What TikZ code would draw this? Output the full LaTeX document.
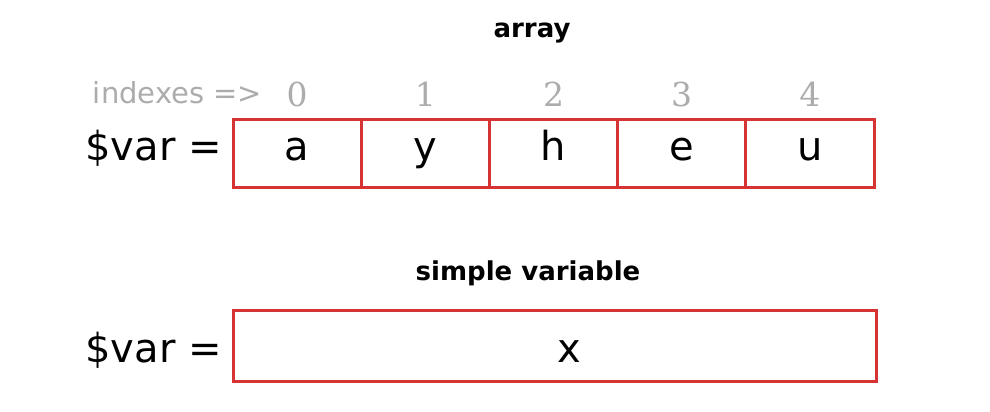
\documentclass[tikz,border=0pt]{standalone}
\usepackage{fontspec}
\setmainfont{DejaVu Sans}
\newfontfamily\idxfamily{DejaVu Serif}
\usepackage{xcolor}
\usetikzlibrary{positioning}

\definecolor{boxred}{RGB}{214,52,52}
\definecolor{idxgray}{RGB}{172,172,172}

\tikzset{
    cell/.style={draw=boxred, line width=3pt, outer sep=0pt, inner sep=0pt,
        minimum width=128.2pt, minimum height=68pt, text height=30pt, text depth=16pt,
        font=\fontsize{40}{48}\selectfont},
    varlabel/.style={inner sep=0pt, font=\fontsize{40}{48}\selectfont},
    idx/.style={inner sep=0pt, text=idxgray, font=\idxfamily\fontsize{33}{38}\selectfont},
    title/.style={inner sep=0pt, font=\bfseries\fontsize{26}{32}\selectfont}
}

\begin{document}
\begin{tikzpicture}[x=1pt, y=-1pt]
    \useasboundingbox (0,0) rectangle (990,412);
    \node [title] (arraytitle) at (532,33) {array}; % heading of the array
    \node [cell] (c0) at (297.1,153) {a}; % first cell
    \node [cell, right=0pt of c0] (c1) {y};
    \node [cell, right=0pt of c1] (c2) {h};
    \node [cell, right=0pt of c2] (c3) {e};
    \node [cell, right=0pt of c3] (c4) {u}; % last cell
    \node [varlabel, left=11pt of c0.base west, anchor=base east] (arrvar) {\$var =}; % name of the array
    \node [idx, above=12pt of c0] (i0) {0}; % index of each cell
    \node [idx, above=12pt of c1] (i1) {1};
    \node [idx, above=12pt of c2] (i2) {2};
    \node [idx, above=12pt of c3] (i3) {3};
    \node [idx, above=12pt of c4] (i4) {4};
    \node [inner sep=0pt, text=idxgray, font=\fontsize{29}{34}\selectfont,
        left=24pt of i0.base west, anchor=base east, yshift=3pt] (idxlabel) {indexes =>}; % text before the indexes
    \node [title] (simpletitle) at (528,273) {simple variable}; % heading of the simple variable
    \node [cell, minimum width=643pt, minimum height=71pt, text height=40pt, text depth=7pt]
        (single) at (554.5,345.5) {\hspace*{30pt}x}; % one wide cell
    \node [varlabel, left=11pt of single.base west, anchor=base east] (singlevar) {\$var =}; % name of the variable
\end{tikzpicture}
\end{document}
